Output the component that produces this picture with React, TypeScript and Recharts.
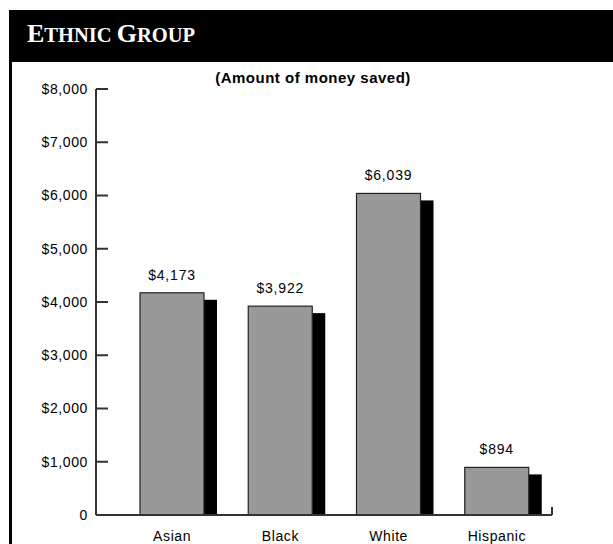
import React from 'react';
import * as R from 'recharts';
import { BarChart, Bar, XAxis, YAxis, LabelList } from 'recharts';

const groups = ['Asian', 'Black', 'White', 'Hispanic'];
const saved = [4173, 3922, 6039, 894];
const yTicks = [0, 1000, 2000, 3000, 4000, 5000, 6000, 7000, 8000];

const data = groups.map((g, i) => ({ group: g, saved: saved[i] }));

const money = (v: number) => (v === 0 ? '0' : '$' + v.toLocaleString('en-US'));

const SANS = 'Arial, "Liberation Sans", sans-serif';

// gray bar with a black drop shadow on its right side
const ShadowBar = (props: any) => {
  const { x, y, width, height } = props;
  if (!height || height <= 0) return null;
  const drop = 7;
  return (
    <g>
      {height > drop && (
        <rect x={x + width} y={y + drop} width={13} height={height - drop} fill="#000" />
      )}
      <rect x={x} y={y} width={width} height={height} fill="#999999" stroke="#222" strokeWidth={1.2} />
    </g>
  );
};

// y ticks point into the plot
const YTick = (props: any) => {
  const { x, y, payload } = props;
  return (
    <g>
      <line x1={x} x2={x + 12} y1={y} y2={y} stroke="#333" strokeWidth={2} />
      <text x={x - 8} y={y} dy="0.35em" textAnchor="end" fontFamily={SANS} fontSize={14} letterSpacing={0.6} fill="#000">
        {money(payload.value)}
      </text>
    </g>
  );
};

// small upright tick closing the category axis
const AxisEnd = () => {
  const hook = (R as any).usePlotArea;
  const area = hook ? hook() : null;
  if (!area) return null;
  const xe = area.x + area.width;
  const yb = area.y + area.height;
  return <line x1={xe} x2={xe} y1={yb - 8} y2={yb} stroke="#333" strokeWidth={2} />;
};

const big = { fontSize: 26 };
const small = { fontSize: 20.5 };

export default function App() {
  return (
    <div style={{ position: 'absolute', left: 0, top: 0, width: 613, height: 544, background: '#fff', overflow: 'hidden' }}>
      <div style={{ position: 'absolute', left: 9, top: 10, width: 604, height: 52, background: '#000' }}>
        <div
          style={{
            position: 'absolute',
            left: 18,
            top: 10,
            color: '#fff',
            fontFamily: '"Liberation Serif", "Times New Roman", serif',
            fontWeight: 'bold',
            lineHeight: '28px',
            whiteSpace: 'nowrap',
          }}
        >
          <span style={big}>E</span>
          <span style={small}>THNIC </span>
          <span style={big}>G</span>
          <span style={small}>ROUP</span>
        </div>
      </div>
      <div style={{ position: 'absolute', left: 9, top: 62, width: 3, height: 482, background: '#000' }} />
      <div
        style={{
          position: 'absolute',
          left: 202,
          top: 70,
          width: 222,
          textAlign: 'center',
          fontFamily: SANS,
          fontWeight: 'bold',
          fontSize: 15,
          letterSpacing: 0.5,
          lineHeight: '16px',
          whiteSpace: 'nowrap',
        }}
      >
        (Amount of money saved)
      </div>
      <div style={{ position: 'absolute', left: 0, top: 0 }}>
        <BarChart width={613} height={544} data={data} margin={{ top: 89, right: 61, bottom: 0, left: 0 }}>
          <YAxis
            type="number"
            domain={[0, 8000]}
            ticks={yTicks}
            width={96}
            interval={0}
            tickSize={0}
            tickMargin={0}
            tickLine={false}
            axisLine={{ stroke: '#333', strokeWidth: 2 }}
            tick={<YTick />}
          />
          <XAxis
            dataKey="group"
            height={29}
            padding={{ left: 22, right: 1 }}
            tickLine={false}
            tickSize={0}
            tickMargin={16}
            axisLine={{ stroke: '#333', strokeWidth: 2 }}
            tick={{ fill: '#000', fontFamily: SANS, fontSize: 14, letterSpacing: 0.6 }}
          />
          <Bar dataKey="saved" barSize={64} shape={<ShadowBar />} isAnimationActive={false}>
            <LabelList
              dataKey="saved"
              position="top"
              offset={13}
              formatter={(v: any) => money(Number(v))}
              style={{ fill: '#000', fontFamily: SANS, fontSize: 14, letterSpacing: 0.8 }}
            />
          </Bar>
          <AxisEnd />
        </BarChart>
      </div>
    </div>
  );
}
